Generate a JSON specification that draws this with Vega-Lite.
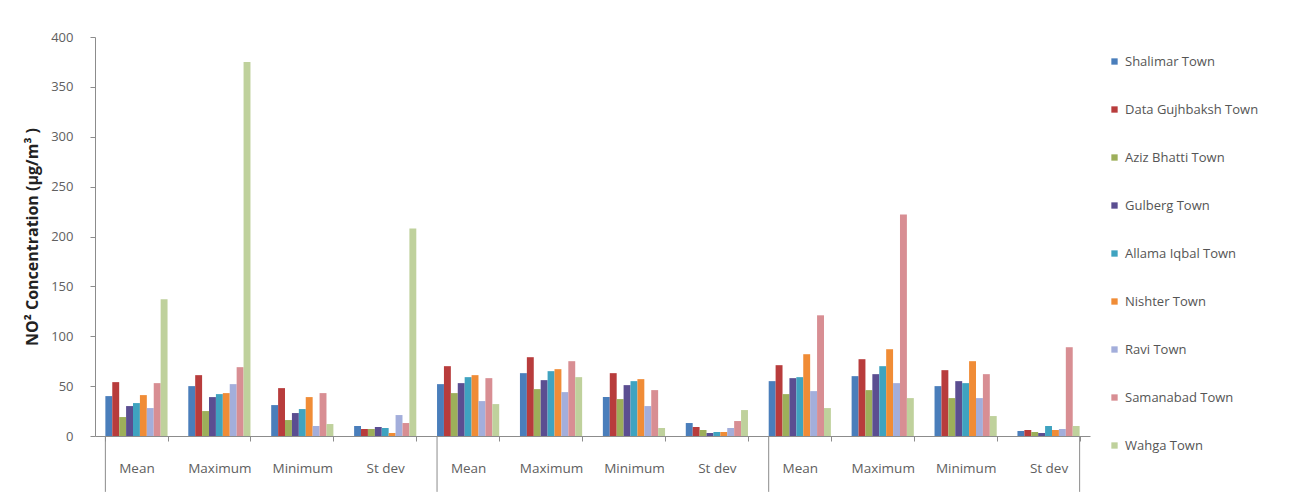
{
  "$schema": "https://vega.github.io/schema/vega-lite/v6.json",
  "autosize": {"type": "none"},
  "width": 995,
  "height": 399,
  "padding": {"left": 95, "top": 37, "right": 199, "bottom": 66},
  "background": "white",
  "config": {
    "font": "Open Sans",
    "view": {"stroke": null}
  },
  "datasets": {
    "bars": [
      {"cat": "A|Mean", "town": "Shalimar Town", "v": 40},
      {"cat": "A|Mean", "town": "Data Gujhbaksh Town", "v": 54},
      {"cat": "A|Mean", "town": "Aziz Bhatti Town", "v": 19},
      {"cat": "A|Mean", "town": "Gulberg Town", "v": 30},
      {"cat": "A|Mean", "town": "Allama Iqbal Town", "v": 33},
      {"cat": "A|Mean", "town": "Nishter Town", "v": 41},
      {"cat": "A|Mean", "town": "Ravi Town", "v": 28},
      {"cat": "A|Mean", "town": "Samanabad Town", "v": 53},
      {"cat": "A|Mean", "town": "Wahga Town", "v": 137},
      {"cat": "A|Maximum", "town": "Shalimar Town", "v": 50},
      {"cat": "A|Maximum", "town": "Data Gujhbaksh Town", "v": 61},
      {"cat": "A|Maximum", "town": "Aziz Bhatti Town", "v": 25},
      {"cat": "A|Maximum", "town": "Gulberg Town", "v": 39},
      {"cat": "A|Maximum", "town": "Allama Iqbal Town", "v": 42},
      {"cat": "A|Maximum", "town": "Nishter Town", "v": 43},
      {"cat": "A|Maximum", "town": "Ravi Town", "v": 52},
      {"cat": "A|Maximum", "town": "Samanabad Town", "v": 69},
      {"cat": "A|Maximum", "town": "Wahga Town", "v": 375},
      {"cat": "A|Minimum", "town": "Shalimar Town", "v": 31},
      {"cat": "A|Minimum", "town": "Data Gujhbaksh Town", "v": 48},
      {"cat": "A|Minimum", "town": "Aziz Bhatti Town", "v": 16},
      {"cat": "A|Minimum", "town": "Gulberg Town", "v": 23},
      {"cat": "A|Minimum", "town": "Allama Iqbal Town", "v": 27},
      {"cat": "A|Minimum", "town": "Nishter Town", "v": 39},
      {"cat": "A|Minimum", "town": "Ravi Town", "v": 10},
      {"cat": "A|Minimum", "town": "Samanabad Town", "v": 43},
      {"cat": "A|Minimum", "town": "Wahga Town", "v": 12},
      {"cat": "A|St dev", "town": "Shalimar Town", "v": 10},
      {"cat": "A|St dev", "town": "Data Gujhbaksh Town", "v": 7},
      {"cat": "A|St dev", "town": "Aziz Bhatti Town", "v": 7},
      {"cat": "A|St dev", "town": "Gulberg Town", "v": 9},
      {"cat": "A|St dev", "town": "Allama Iqbal Town", "v": 8},
      {"cat": "A|St dev", "town": "Nishter Town", "v": 3},
      {"cat": "A|St dev", "town": "Ravi Town", "v": 21},
      {"cat": "A|St dev", "town": "Samanabad Town", "v": 13},
      {"cat": "A|St dev", "town": "Wahga Town", "v": 208},
      {"cat": "B|Mean", "town": "Shalimar Town", "v": 52},
      {"cat": "B|Mean", "town": "Data Gujhbaksh Town", "v": 70},
      {"cat": "B|Mean", "town": "Aziz Bhatti Town", "v": 43},
      {"cat": "B|Mean", "town": "Gulberg Town", "v": 53},
      {"cat": "B|Mean", "town": "Allama Iqbal Town", "v": 59},
      {"cat": "B|Mean", "town": "Nishter Town", "v": 61},
      {"cat": "B|Mean", "town": "Ravi Town", "v": 35},
      {"cat": "B|Mean", "town": "Samanabad Town", "v": 58},
      {"cat": "B|Mean", "town": "Wahga Town", "v": 32},
      {"cat": "B|Maximum", "town": "Shalimar Town", "v": 63},
      {"cat": "B|Maximum", "town": "Data Gujhbaksh Town", "v": 79},
      {"cat": "B|Maximum", "town": "Aziz Bhatti Town", "v": 47},
      {"cat": "B|Maximum", "town": "Gulberg Town", "v": 56},
      {"cat": "B|Maximum", "town": "Allama Iqbal Town", "v": 65},
      {"cat": "B|Maximum", "town": "Nishter Town", "v": 67},
      {"cat": "B|Maximum", "town": "Ravi Town", "v": 44},
      {"cat": "B|Maximum", "town": "Samanabad Town", "v": 75},
      {"cat": "B|Maximum", "town": "Wahga Town", "v": 59},
      {"cat": "B|Minimum", "town": "Shalimar Town", "v": 39},
      {"cat": "B|Minimum", "town": "Data Gujhbaksh Town", "v": 63},
      {"cat": "B|Minimum", "town": "Aziz Bhatti Town", "v": 37},
      {"cat": "B|Minimum", "town": "Gulberg Town", "v": 51},
      {"cat": "B|Minimum", "town": "Allama Iqbal Town", "v": 55},
      {"cat": "B|Minimum", "town": "Nishter Town", "v": 57},
      {"cat": "B|Minimum", "town": "Ravi Town", "v": 30},
      {"cat": "B|Minimum", "town": "Samanabad Town", "v": 46},
      {"cat": "B|Minimum", "town": "Wahga Town", "v": 8},
      {"cat": "B|St dev", "town": "Shalimar Town", "v": 13},
      {"cat": "B|St dev", "town": "Data Gujhbaksh Town", "v": 9},
      {"cat": "B|St dev", "town": "Aziz Bhatti Town", "v": 6},
      {"cat": "B|St dev", "town": "Gulberg Town", "v": 3},
      {"cat": "B|St dev", "town": "Allama Iqbal Town", "v": 4},
      {"cat": "B|St dev", "town": "Nishter Town", "v": 4},
      {"cat": "B|St dev", "town": "Ravi Town", "v": 8},
      {"cat": "B|St dev", "town": "Samanabad Town", "v": 15},
      {"cat": "B|St dev", "town": "Wahga Town", "v": 26},
      {"cat": "C|Mean", "town": "Shalimar Town", "v": 55},
      {"cat": "C|Mean", "town": "Data Gujhbaksh Town", "v": 71},
      {"cat": "C|Mean", "town": "Aziz Bhatti Town", "v": 42},
      {"cat": "C|Mean", "town": "Gulberg Town", "v": 58},
      {"cat": "C|Mean", "town": "Allama Iqbal Town", "v": 59},
      {"cat": "C|Mean", "town": "Nishter Town", "v": 82},
      {"cat": "C|Mean", "town": "Ravi Town", "v": 45},
      {"cat": "C|Mean", "town": "Samanabad Town", "v": 121},
      {"cat": "C|Mean", "town": "Wahga Town", "v": 28},
      {"cat": "C|Maximum", "town": "Shalimar Town", "v": 60},
      {"cat": "C|Maximum", "town": "Data Gujhbaksh Town", "v": 77},
      {"cat": "C|Maximum", "town": "Aziz Bhatti Town", "v": 46},
      {"cat": "C|Maximum", "town": "Gulberg Town", "v": 62},
      {"cat": "C|Maximum", "town": "Allama Iqbal Town", "v": 70},
      {"cat": "C|Maximum", "town": "Nishter Town", "v": 87},
      {"cat": "C|Maximum", "town": "Ravi Town", "v": 53},
      {"cat": "C|Maximum", "town": "Samanabad Town", "v": 222},
      {"cat": "C|Maximum", "town": "Wahga Town", "v": 38},
      {"cat": "C|Minimum", "town": "Shalimar Town", "v": 50},
      {"cat": "C|Minimum", "town": "Data Gujhbaksh Town", "v": 66},
      {"cat": "C|Minimum", "town": "Aziz Bhatti Town", "v": 38},
      {"cat": "C|Minimum", "town": "Gulberg Town", "v": 55},
      {"cat": "C|Minimum", "town": "Allama Iqbal Town", "v": 53},
      {"cat": "C|Minimum", "town": "Nishter Town", "v": 75},
      {"cat": "C|Minimum", "town": "Ravi Town", "v": 38},
      {"cat": "C|Minimum", "town": "Samanabad Town", "v": 62},
      {"cat": "C|Minimum", "town": "Wahga Town", "v": 20},
      {"cat": "C|St dev", "town": "Shalimar Town", "v": 5},
      {"cat": "C|St dev", "town": "Data Gujhbaksh Town", "v": 6},
      {"cat": "C|St dev", "town": "Aziz Bhatti Town", "v": 4},
      {"cat": "C|St dev", "town": "Gulberg Town", "v": 3},
      {"cat": "C|St dev", "town": "Allama Iqbal Town", "v": 10},
      {"cat": "C|St dev", "town": "Nishter Town", "v": 6},
      {"cat": "C|St dev", "town": "Ravi Town", "v": 7},
      {"cat": "C|St dev", "town": "Samanabad Town", "v": 89},
      {"cat": "C|St dev", "town": "Wahga Town", "v": 10}
    ],
    "sepStart": [
      {"cat": "A|Mean"},
      {"cat": "B|Mean"},
      {"cat": "C|Mean"}
    ],
    "sepEnd": [
      {"cat": "C|St dev"}
    ]
  },
  "layer": [
    {
      "data": {"name": "bars"},
      "mark": {"type": "bar"},
      "encoding": {
        "x": {
          "field": "cat",
          "type": "nominal",
          "sort": null,
          "scale": {"paddingInner": 0.25, "paddingOuter": 0.125},
          "axis": {
            "title": null,
            "labelAngle": 0,
            "labelExpr": "split(datum.label, '|')[1]",
            "labelColor": "#606060",
            "labelFontSize": 13.5,
            "labelPadding": 20,
            "domainColor": "#8c8c8c",
            "tickColor": "#8c8c8c",
            "tickBand": "extent",
            "tickSize": 5
          }
        },
        "xOffset": {
          "field": "town",
          "type": "nominal",
          "sort": null,
          "scale": {"paddingInner": 0, "paddingOuter": 0}
        },
        "y": {
          "field": "v",
          "type": "quantitative",
          "scale": {"domain": [0, 400], "nice": false},
          "axis": {
            "title": "NO² Concentration (µg/m³ )",
            "titleFontSize": 16,
            "titleFontWeight": "bold",
            "titleColor": "#222222",
            "titlePadding": 10,
            "values": [0, 50, 100, 150, 200, 250, 300, 350, 400],
            "grid": false,
            "labelColor": "#606060",
            "labelFontSize": 13,
            "labelPadding": 17,
            "domainColor": "#8c8c8c",
            "tickColor": "#8c8c8c",
            "tickSize": 5
          }
        },
        "color": {
          "field": "town",
          "type": "nominal",
          "sort": null,
          "scale": {
            "domain": ["Shalimar Town", "Data Gujhbaksh Town", "Aziz Bhatti Town", "Gulberg Town", "Allama Iqbal Town", "Nishter Town", "Ravi Town", "Samanabad Town", "Wahga Town"],
            "range": ["#4A7EBB", "#B83C3C", "#9DAF5A", "#5B4E91", "#3FA3C0", "#F08C36", "#A3AEDB", "#D88E93", "#BFD19C"]
          },
          "legend": {
            "title": null,
            "orient": "none",
            "legendX": 1013,
            "legendY": 18,
            "symbolType": "square",
            "symbolSize": 40,
            "symbolStrokeWidth": 0,
            "labelFontSize": 13,
            "labelColor": "#555555",
            "rowPadding": 34,
            "labelOffset": 4
          }
        }
      }
    },
    {
      "data": {"name": "sepStart"},
      "mark": {"type": "rule", "color": "#8c8c8c", "strokeWidth": 1},
      "encoding": {
        "x": {"field": "cat", "type": "nominal", "sort": null, "bandPosition": 0},
        "y": {"datum": 0},
        "y2": {"datum": -56}
      }
    },
    {
      "data": {"name": "sepEnd"},
      "mark": {"type": "rule", "color": "#8c8c8c", "strokeWidth": 1},
      "encoding": {
        "x": {"field": "cat", "type": "nominal", "sort": null, "bandPosition": 1},
        "y": {"datum": 0},
        "y2": {"datum": -56}
      }
    }
  ]
}
